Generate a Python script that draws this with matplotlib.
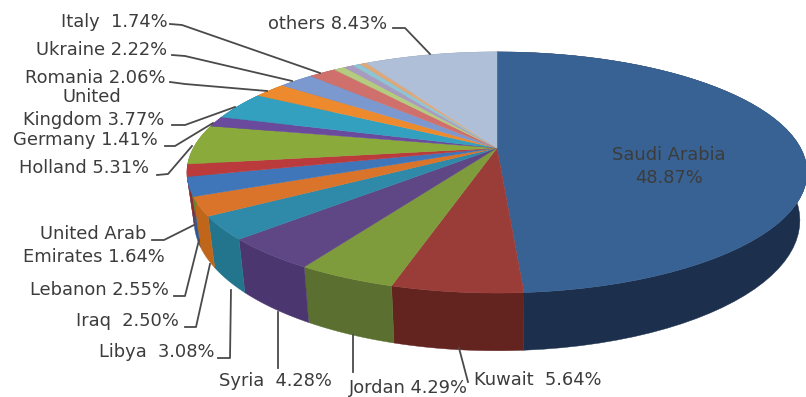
import numpy as np
import matplotlib
matplotlib.use("Agg")
import matplotlib.pyplot as plt

# clockwise from 12 o'clock, the four unlabelled slivers are estimated
names = ["Saudi Arabia", "Kuwait", "Jordan", "Syria", "Libya", "Iraq", "Lebanon",
         "United Arab Emirates", "Holland", "Germany", "United Kingdom", "Romania",
         "Ukraine", "Italy", "", "", "", "", "others"]
shares = [48.87, 5.64, 4.29, 4.28, 3.08, 2.50, 2.55,
          1.64, 5.31, 1.41, 3.77, 2.06,
          2.22, 1.74, 0.70, 0.60, 0.50, 0.41, 8.43]
top_colors = ["#376293", "#9a3c38", "#7f9c3c", "#5f4785", "#2f89a8", "#d9742a", "#3f76ba",
              "#bb3a3c", "#8aaa3c", "#6a4a9c", "#33a0c0", "#ee8a2e",
              "#7b98cf", "#d0706c", "#b4cb80", "#a99abf", "#8fc4d4", "#e0a878", "#b0bfd8"]
wall_colors = ["#1c2f4d", "#632420", "#5b7030", "#4c3670", "#22758c", "#c0661a", "#2f5a90",
               "#8f2c2e", "#6a8430", "#50387a", "#267c96", "#c06a20",
               "#5e76a2", "#a05652", "#8a9c62", "#837794", "#6e98a4", "#ac825c", "#88939f"]

label_texts = ["Italy  1.74%", "Ukraine 2.22%", "Romania 2.06%", "United", "Kingdom 3.77%",
               "Germany 1.41%", "Holland 5.31%", "others 8.43%", "United Arab", "Emirates 1.64%",
               "Lebanon 2.55%", "Iraq  2.50%", "Libya  3.08%", "Syria  4.28%", "Jordan 4.29%",
               "Kuwait  5.64%", "Saudi Arabia", "48.87%"]
label_x = [114, 102, 95, 92, 94, 85, 84, 328, 93, 94, 99, 127, 157, 275, 408, 538, 669, 669]
label_y = [22, 50, 78, 97, 120, 140, 168, 24, 234, 257, 290, 321, 352, 381, 388, 380, 155, 178]

leaders = [
    [(170, 24), (182, 25), (320, 73)],
    [(172, 55), (185, 56), (292, 81)],
    [(170, 82), (185, 84), (267, 91)],
    [(172, 125), (185, 125), (235, 107)],
    [(165, 146), (175, 146), (213, 123)],
    [(157, 175), (168, 174), (192, 146)],
    [(393, 28), (405, 28), (430, 54)],
    [(152, 240), (164, 240), (194, 225)],
    [(174, 296), (185, 296), (199, 240)],
    [(185, 327), (196, 327), (210, 264)],
    [(218, 358), (230, 358), (231, 290)],
    [(278, 368), (278, 312)],
    [(353, 372), (353, 335)],
    [(468, 382), (459, 348)],
]

# perspective squash of the disc, fitted to the picture
CX, CY, RX, RY, PERSP, DEPTH, BOTTOM_SHRINK = 497, 148, 303.6, 115.6, 0.203, 46, 0.977


def project(frac, radius=1.0, drop=0.0, shrink=1.0):
    ang = 2 * np.pi * np.asarray(frac)
    u = np.sin(ang) * radius
    v = -np.cos(ang) * radius
    f = 1 / (1 - PERSP * v)
    return CX + RX * u * f * shrink, CY + RY * v * f + drop * f


def main():
    fig = plt.figure(figsize=(8.06, 3.97), dpi=100)
    ax = fig.add_axes([0, 0, 1, 1])
    ax.set_xlim(0, 806)
    ax.set_ylim(397, 0)
    ax.axis("off")

    ends = np.cumsum(shares) / np.sum(shares)
    starts = np.concatenate([[0], ends[:-1]])

    # walls first, back to front, tops go over them
    order = np.argsort(np.cos(2 * np.pi * (starts + ends) / 2))
    for i in order:
        t = np.linspace(starts[i], ends[i], 60)
        x1, y1 = project(t)
        x2, y2 = project(t, drop=DEPTH, shrink=BOTTOM_SHRINK)
        ax.fill(np.r_[x1, x2[::-1]], np.r_[y1, y2[::-1]],
                color=wall_colors[i], lw=0.3, zorder=2)

    for i in range(len(shares)):
        t = np.linspace(starts[i], ends[i], 60)
        x, y = project(t)
        x0, y0 = project(0.0, radius=0.0)
        ax.fill(np.r_[x0, x], np.r_[y0, y], color=top_colors[i], lw=0.3, zorder=3)

    for pts in leaders:
        xs, ys = zip(*pts)
        ax.plot(xs, ys, color="#4a4a4a", lw=1.3, zorder=4)

    for text, x, y in zip(label_texts, label_x, label_y):
        ax.text(x, y, text, ha="center", va="center", fontsize=12.9,
                color="#3c3c3c", family="DejaVu Sans", zorder=5)

    fig.savefig("out.png", dpi=100)


if __name__ == "__main__":
    main()
